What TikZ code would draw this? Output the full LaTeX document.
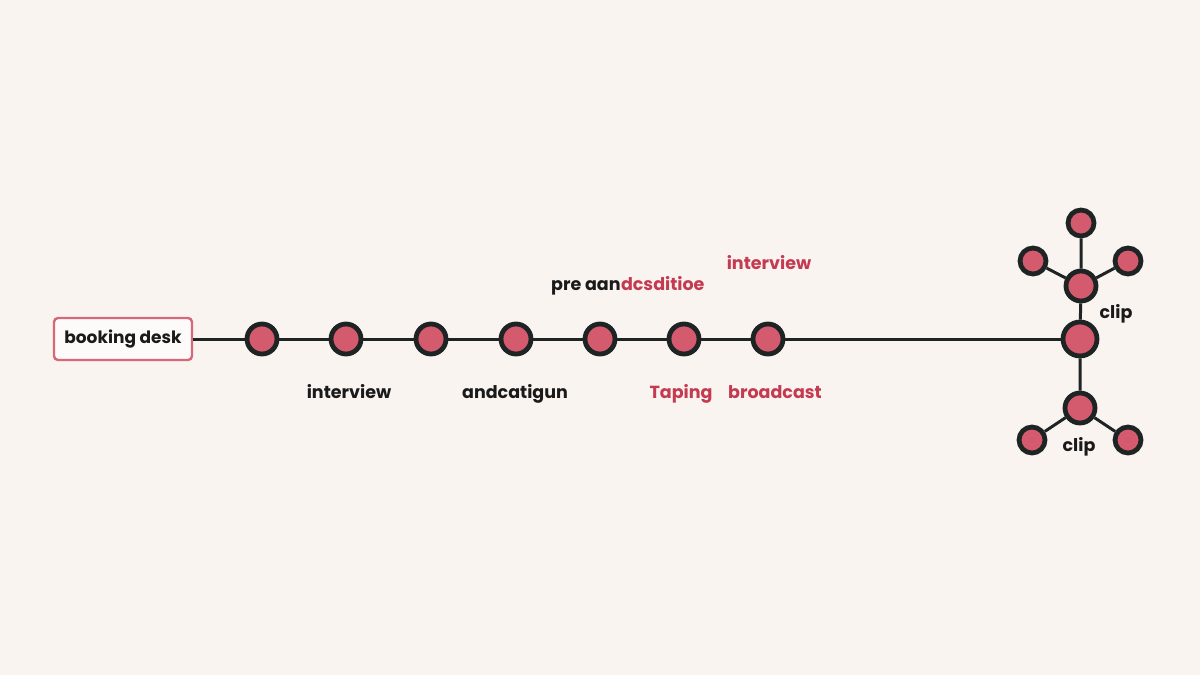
\documentclass[tikz,border=0pt]{standalone}
\usepackage{fontspec}
\setmainfont{Poppins}
\definecolor{bgc}{HTML}{FAF4F1}
\definecolor{ringc}{HTML}{1E2424}
\definecolor{dotc}{HTML}{D45A6E}
\definecolor{redt}{HTML}{C43A50}
\definecolor{boxc}{HTML}{D9677A}
\definecolor{txtc}{HTML}{1A1A1A}
\tikzset{
  dot/.style={circle, draw=ringc, line width=4.8pt, fill=dotc, minimum size=30pt, inner sep=0pt},
  bigdot/.style={dot, minimum size=34pt},
  smalldot/.style={dot, minimum size=26pt},
  lbl/.style={font=\fontsize{17.5}{20}\selectfont\bfseries, text=txtc, inner sep=0pt, anchor=base},
  rlbl/.style={lbl, text=redt},
  wire/.style={draw=ringc, line width=3pt},
}
\begin{document}
\begin{tikzpicture}[x=1pt,y=-1pt]
\fill[bgc] (0,0) rectangle (1200,675);
\useasboundingbox (0,0) rectangle (1200,675);
\node[draw=boxc, line width=2.4pt, fill=white!60!bgc, rounded corners=4pt, minimum width=138pt, minimum height=42pt, font=\fontsize{17}{20}\selectfont\bfseries, text=txtc, inner sep=2pt] (desk) at (123,339) {booking desk};
\node[dot] (n1) at (262,339) {};
\node[dot] (n2) at (346,339) {};
\node[dot] (n3) at (431,339) {};
\node[dot] (n4) at (516,339) {};
\node[dot] (n5) at (600,339) {};
\node[dot] (n6) at (684,339) {};
\node[dot] (n7) at (768,339) {};
\node[bigdot] (hub) at (1080,339) {};
\node[dot] (up) at (1081,286) {};
\node[smalldot] (top) at (1081,223) {};
\node[smalldot] (tl) at (1033,261) {};
\node[smalldot] (tr) at (1128,261) {};
\node[dot] (lo) at (1080,408) {};
\node[smalldot] (bl) at (1032,440) {};
\node[smalldot] (br) at (1128,440) {};
\draw[wire] (desk.east) -- (n1) (n1) -- (n2) (n2) -- (n3) (n3) -- (n4) (n4) -- (n5) (n5) -- (n6) (n6) -- (n7) (n7) -- (hub);
\draw[wire] (hub) -- (up) (up) -- (top) (up) -- (tl) (up) -- (tr) (hub) -- (lo) (lo) -- (bl) (lo) -- (br);
\node[lbl] (l1) at (349,398) {interview};
\node[lbl] (l2) at (515,398) {andcatigun};
\node[rlbl] (l3) at (681,398) {Taping};
\node[rlbl] (l4) at (775,398) {broadcast};
\node[lbl, anchor=base west] (l5a) at (551,290) {pre aan};
\node[rlbl, anchor=base west] (l5b) at (l5a.base east) {dcsditioe};
\node[rlbl] (l6) at (769,269) {interview};
\node[lbl] (c1) at (1116,318) {clip};
\node[lbl] (c2) at (1079,451) {clip};
\end{tikzpicture}
\end{document}
